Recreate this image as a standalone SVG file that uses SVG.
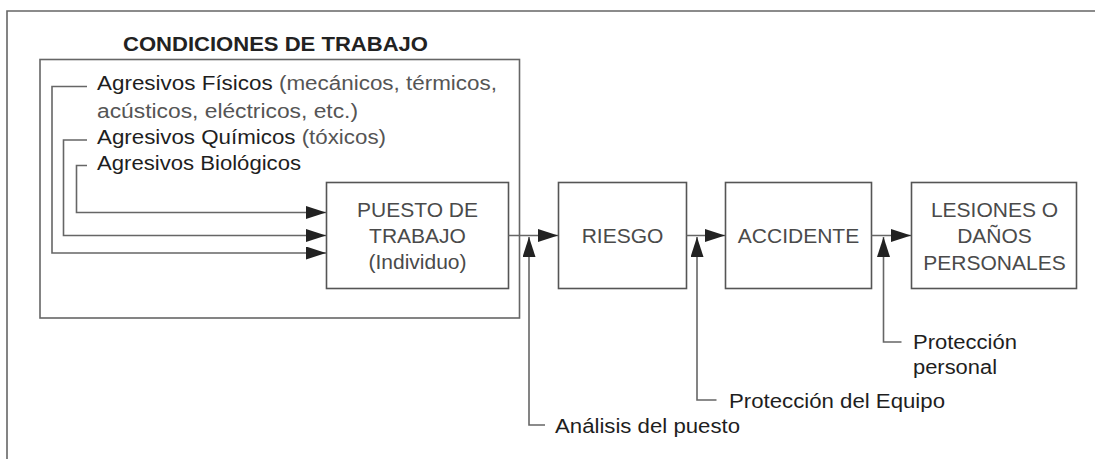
<svg xmlns="http://www.w3.org/2000/svg" width="1095" height="459" viewBox="0 0 1095 459">
<style>
  .frame { fill: none; stroke: #666; stroke-width: 1.6; }
  .box { fill: #fff; stroke: #555; stroke-width: 1.6; }
  .conn { fill: none; stroke: #666; stroke-width: 1.6; }
  .title { font-family: "Liberation Sans", Arial, sans-serif; font-weight: bold; font-size: 21px; fill: #222; }
  .lbl { font-family: "Liberation Sans", Arial, sans-serif; font-size: 20px; fill: #555; }
  .dark { fill: #1e1e1e; }
  .boxtxt { font-family: "Liberation Sans", Arial, sans-serif; font-size: 21px; fill: #4a4a4a; text-anchor: middle; }
</style>
<defs>
  <marker id="arr" markerUnits="userSpaceOnUse" markerWidth="21" markerHeight="14" refX="20" refY="6.5" orient="auto">
    <path d="M0,0 L20,6.5 L0,13 z" fill="#222"/>
  </marker>
</defs>
<rect x="0" y="0" width="1095" height="459" fill="#fff"/>
<path class="frame" d="M7,460 V11 H1096"/>

<g id="condiciones">
  <text class="title" x="123" y="51" textLength="305" lengthAdjust="spacingAndGlyphs">CONDICIONES DE TRABAJO</text>
  <rect class="frame" x="40" y="59.5" width="479.5" height="258.5"/>
  <text class="lbl" x="97" y="90" textLength="400" lengthAdjust="spacingAndGlyphs"><tspan class="dark">Agresivos Físicos</tspan> (mecánicos, térmicos,</text>
  <text class="lbl" x="97" y="117.5" textLength="261" lengthAdjust="spacingAndGlyphs">acústicos, eléctricos, etc.)</text>
  <text class="lbl" x="97" y="143.5" textLength="289" lengthAdjust="spacingAndGlyphs"><tspan class="dark">Agresivos Químicos</tspan> (tóxicos)</text>
  <text class="lbl dark" x="97" y="170" textLength="204" lengthAdjust="spacingAndGlyphs">Agresivos Biológicos</text>
</g>

<g id="puesto">
  <rect class="box" x="326.5" y="182.5" width="182" height="106"/>
  <text class="boxtxt" x="417.5" y="216.5">PUESTO DE</text>
  <text class="boxtxt" x="417.5" y="243">TRABAJO</text>
  <text class="boxtxt" x="417.5" y="269">(Individuo)</text>
</g>

<g id="riesgo">
  <rect class="box" x="558.5" y="182.5" width="128" height="106"/>
  <text class="boxtxt" x="622.5" y="243">RIESGO</text>
</g>

<g id="accidente">
  <rect class="box" x="725.5" y="182.5" width="146" height="106"/>
  <text class="boxtxt" x="798.5" y="243">ACCIDENTE</text>
</g>

<g id="lesiones">
  <rect class="box" x="911.5" y="182.5" width="165" height="106"/>
  <text class="boxtxt" x="994.5" y="216.5">LESIONES O</text>
  <text class="boxtxt" x="994.5" y="243">DAÑOS</text>
  <text class="boxtxt" x="994.5" y="269.5">PERSONALES</text>
</g>

<g id="analisis">
  <text class="lbl dark" x="555" y="433" textLength="185" lengthAdjust="spacingAndGlyphs">Análisis del puesto</text>
</g>
<g id="proteccion-equipo">
  <text class="lbl dark" x="729" y="408" textLength="216" lengthAdjust="spacingAndGlyphs">Protección del Equipo</text>
</g>
<g id="proteccion-personal">
  <text class="lbl dark" x="913" y="349" textLength="104" lengthAdjust="spacingAndGlyphs">Protección</text>
  <text class="lbl dark" x="913" y="373.5" textLength="84" lengthAdjust="spacingAndGlyphs">personal</text>
</g>

<g id="connectors">
  <path class="conn" d="M87,86.5 H52 V253 H326" marker-end="url(#arr)"/>
  <path class="conn" d="M87,140 H63.5 V235.5 H326" marker-end="url(#arr)"/>
  <path class="conn" d="M87,165.5 H76.5 V212.5 H326" marker-end="url(#arr)"/>
  <path class="conn" d="M508.5,235.5 H558" marker-end="url(#arr)"/>
  <path class="conn" d="M686.5,235.5 H725" marker-end="url(#arr)"/>
  <path class="conn" d="M871.5,235.5 H911" marker-end="url(#arr)"/>
  <path class="conn" d="M545,425 H529 V237" marker-end="url(#arr)"/>
  <path class="conn" d="M716.5,400 H697 V237" marker-end="url(#arr)"/>
  <path class="conn" d="M901.5,342 H883.5 V237" marker-end="url(#arr)"/>
</g>
</svg>
